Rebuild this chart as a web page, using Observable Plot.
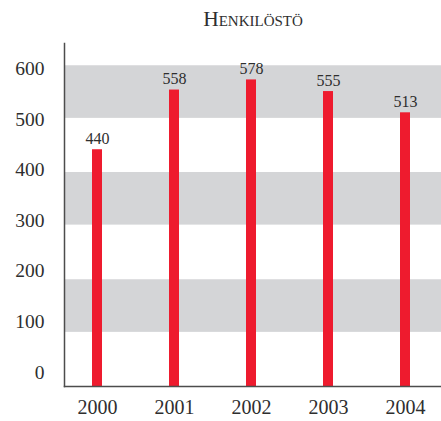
<!DOCTYPE html>
<html>
<head>
<meta charset="utf-8">
<script src="https://cdn.jsdelivr.net/npm/d3@7"></script>
<script src="https://cdn.jsdelivr.net/npm/@observablehq/plot@0.6"></script>
<style>
  body { margin: 0; background: #fff; }
</style>
</head>
<body>
<div id="chart"></div>
<script>
const title = "Henkilöstö";
const years = ["2000", "2001", "2002", "2003", "2004"];
const staff = [440, 558, 578, 555, 513];
const yTicks = [0, 100, 200, 300, 400, 500, 600];
const bandLow = [502, 291, 79];
const bandHigh = [606, 395, 183];
const yFloor = -28;
const yCeil = 650;

const data = years.map((y, i) => ({year: y, value: staff[i]}));
const bands = bandLow.map((lo, i) => ({lo, hi: bandHigh[i]}));

const red = "#ee1b2e";
const gray = "#d4d5d7";
const ink = "#2e2e2e";
const axisColor = "#4d4d4d";

const chart = Plot.plot({
  width: 441,
  height: 421,
  marginLeft: 64,
  marginRight: 0,
  marginTop: 43,
  marginBottom: 35,
  style: {fontFamily: "'Liberation Serif', serif", color: ink, background: "#fff"},
  x: {type: "band", domain: years, paddingInner: 0.87, paddingOuter: 0.383, align: 0.47, label: null},
  y: {domain: [yFloor, yCeil], label: null},
  marks: [
    Plot.barY(bands, {y1: "lo", y2: "hi", fill: gray}),
    Plot.barY(data, {x: "year", y1: yFloor, y2: "value", fill: red}),
    Plot.text(data, {x: "year", y: "value", text: d => String(d.value), lineAnchor: "bottom", dy: -6, fontSize: 16, fill: ink}),
    Plot.frame({anchor: "left", stroke: axisColor, strokeWidth: 1.5}),
    Plot.frame({anchor: "bottom", stroke: axisColor, strokeWidth: 1.5}),
    Plot.axisY({ticks: yTicks, tickSize: 0, tickPadding: 20, fontSize: 19.5, tickFormat: d => String(d), label: null}),
    Plot.axisX({tickSize: 0, tickPadding: 13, fontSize: 20, label: null}),
    Plot.text([title], {frameAnchor: "top", dy: -24, lineAnchor: "middle", fontSize: 21.5, fontVariant: "small-caps", fill: ink, text: d => d})
  ]
});
document.getElementById("chart").appendChild(chart);
</script>
</body>
</html>
